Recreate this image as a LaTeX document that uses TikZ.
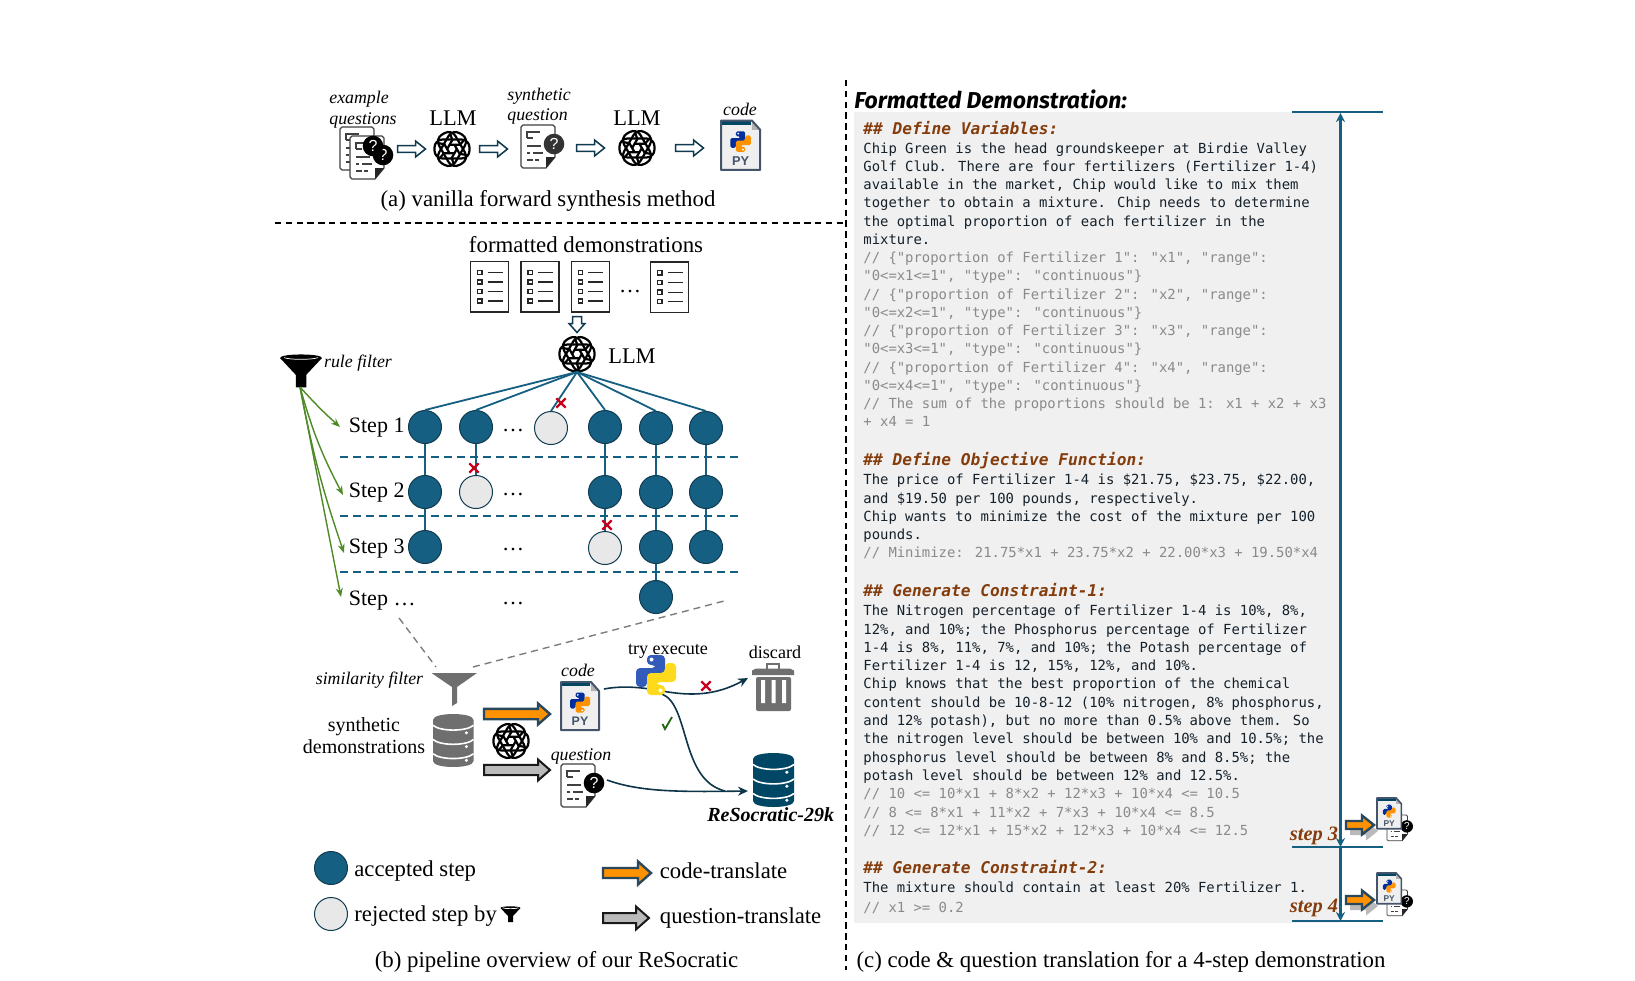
\documentclass[tikz,border=0pt]{standalone}
\usepackage{fontspec}
\setmainfont{Liberation Serif}
\newfontfamily\codefont{DejaVu Sans Mono}
\newfontfamily\titlefont{Fira Sans}
\newfontfamily\pyfont{Liberation Sans}
\usetikzlibrary{shapes.misc,arrows.meta}
\definecolor{teal}{HTML}{156082}
\definecolor{navy}{HTML}{0F3A50}
\definecolor{dbnavy}{HTML}{004766}
\definecolor{rej}{HTML}{E8E8E8}
\definecolor{xred}{HTML}{C8001E}
\definecolor{brownish}{HTML}{843C0C}
\definecolor{gline}{HTML}{4E8A26}
\definecolor{boxgray}{HTML}{F0F0F0}
\definecolor{codegray}{HTML}{8A8A8A}
\definecolor{codedark}{HTML}{14202A}
\definecolor{slate}{HTML}{44546A}
\definecolor{orangefill}{HTML}{FF9200}
\definecolor{grayfill}{HTML}{BABABA}
\definecolor{iconalt}{HTML}{6F6F6F}
\tikzset{
  acc/.style={circle,draw=navy,fill=teal,line width=0.5pt,minimum size=16.5pt,inner sep=0pt},
  rejc/.style={circle,draw=navy,fill=rej,line width=0.5pt,minimum size=16.5pt,inner sep=0pt},
  edgeline/.style={draw=teal,line width=0.9pt},
  sep/.style={draw=teal,line width=0.6pt,dash pattern=on 4pt off 2.5pt},
  blackdash/.style={draw=black,line width=0.8pt,dash pattern=on 3.2pt off 2.2pt},
  graydash/.style={draw=iconalt!90,line width=0.7pt,dash pattern=on 3.5pt off 2.5pt},
  greenarr/.style={draw=gline,line width=0.7pt,-{Stealth[length=4.5pt,width=3.5pt]}},
  flowarr/.style={draw=navy!90!black,line width=0.8pt},
  redx/.style={cross out,draw=xred,line width=1.1pt,minimum size=3.6pt,inner sep=0pt},
  hollow/.style={draw=navy,fill=white,line width=0.75pt,miter limit=3},
  codearr/.style={draw=slate!50!navy,fill=orangefill,line width=1.2pt,miter limit=3},
  quesarr/.style={draw=black!90,fill=grayfill,line width=1pt,miter limit=3},
  shadowS/.style={fill=grayfill},
  serifL/.style={inner sep=0pt,font=\fontsize{11.42}{13}\selectfont},
  serifM/.style={inner sep=0pt,font=\fontsize{9.05}{11}\selectfont},
  itM/.style={inner sep=0pt,font=\fontsize{8.9}{11}\selectfont\itshape},
  stepT/.style={inner sep=0pt,anchor=base west,font=\fontsize{11}{13}\selectfont},
  legT/.style={inner sep=0pt,anchor=base west,font=\fontsize{11.35}{13}\selectfont},
  dotsT/.style={inner sep=0pt,anchor=base,font=\fontsize{11}{13}\selectfont},
  codeb/.style={inner sep=0pt,anchor=base west,text=codedark,font=\codefont\fontsize{6.95}{8}\selectfont},
  codeg/.style={inner sep=0pt,anchor=base west,text=codegray,font=\codefont\fontsize{6.95}{8}\selectfont},
  codeh/.style={inner sep=0pt,anchor=base west,text=brownish,font=\codefont\fontsize{8.1}{9}\selectfont\bfseries\itshape},
  steplbl/.style={inner sep=0pt,anchor=base,text=brownish,font=\fontsize{10.2}{12}\selectfont\bfseries\itshape},
}
\newcommand\cb[3]{\node[codeb] (#1) at (863,#2+5.3) {#3};}
\newcommand\cg[3]{\node[codeg] (#1) at (863,#2+5.3) {#3};}
\newcommand\ch[3]{\node[codeh] (#1) at (863,#2+5.8) {#3};}
% block arrow: start x, start y, length, half body, half head, head length, rotation, style
\newcommand\barr[8]{\path[#8,shift={(#1,#2)},rotate=#7] (0,-#4) -- (#3-#6,-#4) -- (#3-#6,-#5) -- (#3,0) -- (#3-#6,#5) -- (#3-#6,#4) -- (0,#4) -- cycle;}
% OpenAI-style knot
\newcommand\knot[3]{\begin{scope}[shift={(#1,#2)},scale=#3]
 \foreach \a in {0,60,120}{
  \draw[black,line width=1.1pt,rotate=\a,rounded corners=4pt] (-17.5,-9.5) rectangle (17.5,9.5);}
 \foreach \a in {0,60,...,300}{
  \draw[black,line width=1.1pt,rotate=\a] (-3,-4.2) -- (8,-4.2) -- (12,-9);}
\end{scope}}
% python snake pair
\newcommand\snake{(-9,-10) -- (-9,-20) -- (9,-20) -- (9,2) -- (-9,2) -- (-9,12) -- (-20,12) -- (-20,-7) -- (0,-7) -- (0,-10) -- cycle}
\newcommand\pysnakes[6]{\begin{scope}[shift={(#1,#2)},scale=#3]
 \fill[#4,rounded corners=#6] \snake;
 \fill[white] (-4.5,-15.5) circle (2);
 \begin{scope}[rotate=180]
 \fill[#5,rounded corners=#6] \snake;
 \fill[white] (-4.5,-15.5) circle (2);
 \end{scope}
\end{scope}}
% PY file icon: top-left, scale, font size, line width
\newcommand\pyfile[5]{\begin{scope}[shift={(#1,#2)},scale=#3]
 \fill[rej!70!white] (0,0) -- (30,0) -- (38,9) -- (38,48) -- (0,48) -- cycle;
 \fill[dbnavy] (0,0) rectangle (29,4);
 \fill[gray!60] (30,0) -- (30,9) -- (38,9) -- cycle;
 \draw[slate,line width=#5,line join=round] (0,0) -- (30,0) -- (38,9) -- (38,48) -- (0,48) -- cycle;
 \pysnakes{19}{20.5}{.5}{blue!35!dbnavy}{orangefill}{0.8pt}
 \node[inner sep=0pt,text=slate,font=\pyfont\bfseries\fontsize{#4}{#4}\selectfont] at (19,39.5) {PY};
\end{scope}}
% Question document: top-left, scale, circle colour, font size, line width
\newcommand\qdoc[6]{\begin{scope}[shift={(#1,#2)},scale=#3]
 \draw[black!75,fill=white,line width=#6,line join=round] (2,0) -- (32,0) -- (34,2) -- (34,32) -- (25,43) -- (2,43) -- (0,41) -- (0,2) -- cycle;
 \fill[black!85] (34,32) -- (25,32) -- (25,43) -- cycle;
 \draw[black!75,line width=#6] (6,13) -- (6,7) -- (19,7) (6,13) -- (12,13) (6,21) -- (20,21) (6,28) -- (9,28) (12,28) -- (22,28) (6,35) -- (12,35) (14,35) -- (18,35);
 \fill[#4] (33,19) circle (10.3);
 \node[inner sep=0pt,text=white,font=\pyfont\fontsize{#5}{#5}\selectfont] at (33,19) {?};
\end{scope}}
% Checklist document: top-left
\newcommand\chk[2]{\begin{scope}[shift={(#1,#2)}]
 \draw[black!85,line width=0.7pt,fill=white] (0,0) rectangle (38,50.5);
 \foreach \y in {11,20.7,30.3,39.7}{
  \draw[black!85,line width=0.7pt] (7,\y-2.1) rectangle (11.4,\y+2.1);
  \draw[black!85,line width=0.55pt] (17,\y) -- (32,\y);}
\end{scope}}
% Database icon: left, top, width, height, colour
\newcommand\dbicon[5]{\begin{scope}[shift={(#1,#2)},xscale=#3/40,yscale=#4/54]
 \fill[#5] (0,6) .. controls (0,-2) and (40,-2) .. (40,6) -- (40,48) .. controls (40,56) and (0,56) .. (0,48) -- cycle;
 \foreach \y in {11.5,26,40.5}{
  \draw[white,line width=0.8pt] (0,\y) .. controls (7,\y+6.5) and (33,\y+6.5) .. (40,\y);}
 \foreach \y in {20,34,48}{\fill[white] (33,\y-0.8) circle (1.7);}
\end{scope}}
% Black funnel: centre top, scale
\newcommand\funnelB[3]{\begin{scope}[shift={(#1,#2)},scale=#3]
 \fill[black] (-20,0) .. controls (-20,-4.5) and (20,-4.5) .. (20,0) -- (5,16) -- (5,28) -- (-5,28) -- (-5,16) -- cycle;
 \draw[white,line width=0.35pt] (-16,-0.3) .. controls (-10,1.8) and (10,1.8) .. (16,-0.3);
\end{scope}}
\begin{document}
\begin{tikzpicture}[x=0.5pt,y=-0.5pt]
\useasboundingbox (0,0) rectangle (1635,981);
\fill[white] (0,0) rectangle (1635,981);

% separators
\coordinate (hs) at (275,223); \coordinate (he) at (843,223);
\coordinate (vs) at (846,80); \coordinate (ve) at (846,970);
\draw[blackdash] (hs) -- (he);
\draw[blackdash] (vs) -- (ve);

% ---- panel (a)
\node[itM,anchor=base west] (exq1) at (329,103) {example};
\node[itM,anchor=base west] (exq2) at (329,124) {questions};
\qdoc{340}{127}{1}{black}{8}{0.6pt}
\qdoc{350}{136}{1}{black}{8}{0.6pt}
\fill[black] (373,146) circle (10.3);
\node[inner sep=0pt,text=white,font=\pyfont\fontsize{8}{8}\selectfont] (qm1) at (373,146) {?};
\barr{397.5}{149}{28}{3.4}{8}{10}{0}{hollow}
\knot{452}{149}{1}
\node[serifL,anchor=base,font=\fontsize{11.2}{13}\selectfont] (llm1) at (453,125) {LLM};
\barr{479.5}{149}{28}{3.4}{8}{10}{0}{hollow}
\node[itM,anchor=base west] (syn1) at (507,100) {synthetic};
\node[itM,anchor=base west] (syn2) at (507,120.7) {question};
\qdoc{521}{125}{1}{black!80}{8}{0.6pt}
\barr{576.5}{148}{28}{3.4}{8}{10}{0}{hollow}
\knot{637}{148}{1}
\node[serifL,anchor=base,font=\fontsize{11.2}{13}\selectfont] (llm2) at (637,125) {LLM};
\barr{675.5}{148}{28}{3.4}{8}{10}{0}{hollow}
\node[itM,anchor=base] (codea) at (740,115) {code};
\pyfile{721}{120.5}{1.03}{6.4}{1pt}
\node[serifL,anchor=base] (capa) at (548,206) {(a) vanilla forward synthesis method};

% ---- panel (b) top
\node[serifL,anchor=base] (fmt) at (586,252) {formatted demonstrations};
\chk{470.7}{261.3}\chk{521}{261.3}\chk{571.3}{261.3}\chk{650.7}{261.8}
\node[dotsT] (fd) at (630,292) {…};
\barr{577}{316.5}{16}{4.5}{8}{9}{-90}{hollow}
\knot{577}{354}{1}
\node[serifL,anchor=base,font=\fontsize{11.2}{13}\selectfont] (llm3) at (632,363.5) {LLM};
\coordinate (apex) at (577,372);

% rule filter
\funnelB{301}{358}{1.05}
\node[itM,anchor=base] (rule) at (358,367.7) {rule filter};
\coordinate (rf) at (300,387);

% separators between the steps
\coordinate (s1a) at (340,457); \coordinate (s1b) at (741,457);
\coordinate (s2a) at (340,516); \coordinate (s2b) at (741,516);
\coordinate (s3a) at (340,572); \coordinate (s3b) at (741,572);
\draw[sep] (s1a) -- (s1b);
\draw[sep] (s2a) -- (s2b);
\draw[sep] (s3a) -- (s3b);

% step labels
\node[stepT] (st1) at (348.5,432) {Step 1};
\node[stepT] (st2) at (348.5,497) {Step 2};
\node[stepT] (st3) at (348.5,553) {Step 3};
\node[stepT] (st4) at (348.5,605.5) {Step …};
\node[dotsT] (d1) at (513,431) {…};
\node[dotsT] (d2) at (513,495) {…};
\node[dotsT] (d3) at (513,550) {…};
\node[dotsT] (d4) at (513,604) {…};

% circles
\node[acc] (n11) at (425,427) {};
\node[acc] (n12) at (476,427) {};
\node[rejc] (n13) at (551,428) {};
\node[acc] (n14) at (605,427) {};
\node[acc] (n15) at (656,428) {};
\node[acc] (n16) at (706,428) {};
\node[acc] (n21) at (425,492) {};
\node[rejc] (n22) at (476,492) {};
\node[acc] (n24) at (605,492) {};
\node[acc] (n25) at (656,492) {};
\node[acc] (n26) at (706,492) {};
\node[acc] (n31) at (425,547) {};
\node[rejc] (n34) at (605,548) {};
\node[acc] (n35) at (656,547) {};
\node[acc] (n36) at (706,547) {};
\node[acc] (n45) at (656,597) {};
\foreach \t in {n11,n12,n13,n14,n15,n16}{\draw[edgeline] (apex) -- (\t.north);}
\draw[edgeline] (n11) -- (n21); \draw[edgeline] (n21) -- (n31);
\draw[edgeline] (n12) -- (n22);
\draw[edgeline] (n14) -- (n24); \draw[edgeline] (n24) -- (n34);
\draw[edgeline] (n15) -- (n25); \draw[edgeline] (n25) -- (n35); \draw[edgeline] (n35) -- (n45);
\draw[edgeline] (n16) -- (n26); \draw[edgeline] (n26) -- (n36);
\node[redx] (x1) at (561,403) {};
\node[redx] (x2) at (474,468) {};
\node[redx] (x3) at (607,525) {};

% green arrows
\coordinate (g1) at (340,427); \coordinate (g2) at (343,495);
\coordinate (g3) at (344,553); \coordinate (g4) at (341,597);
\draw[greenarr] (rf) to[bend right=3] (g1);
\draw[greenarr] (rf) to[bend right=6] (g2);
\draw[greenarr] (rf) to[bend right=4] (g3);
\draw[greenarr] (rf) -- (g4);

% similarity filter
\coordinate (gd1) at (399,618); \coordinate (gd2) at (436,667);
\coordinate (gd3) at (473,667); \coordinate (gd4) at (724,601);
\draw[graydash] (gd1) -- (gd2);
\draw[graydash] (gd3) -- (gd4);
\fill[iconalt] (431.5,673) -- (477,673) -- (457,687) -- (457,703) -- (452,706) -- (452,687) -- cycle;
\node[itM,anchor=base] (sim) at (369.5,684) {similarity filter};
\node[inner sep=0pt,anchor=base,font=\fontsize{10}{12}\selectfont] (sd1) at (364,731.7) {synthetic};
\node[inner sep=0pt,anchor=base,font=\fontsize{10}{12}\selectfont] (sd2) at (364,753.3) {demonstrations};
\dbicon{433}{714}{40.5}{53}{iconalt}
\barr{484}{714}{66}{5.2}{10.5}{12}{0}{codearr}
\barr{484}{770}{66}{5.2}{10.5}{12}{0}{quesarr}
\knot{511}{741}{1}
\node[itM,anchor=base] (codeb2) at (578,676) {code};
\pyfile{561}{682}{1}{6.2}{1pt}
\node[itM,anchor=base] (quest) at (581,760) {question};
\qdoc{561}{764}{1}{black}{8}{0.6pt}

% execution flow
\node[serifM,anchor=base] (tryx) at (668,654) {try execute};
\coordinate (f1s) at (604,689); \coordinate (f1e) at (748,678);
\coordinate (f2s) at (662,694); \coordinate (f3s) at (607,780); \coordinate (f3e) at (748,791);
\draw[flowarr,-{Stealth[length=5pt,width=4.5pt]}] (f1s) .. controls (625,685) and (645,688) .. (662,691) .. controls (690,696) and (715,696) .. (f1e);
\draw[flowarr] (f2s) .. controls (690,705) and (680,780) .. (725,791);
\draw[flowarr,-{Stealth[length=5pt,width=4.5pt]}] (f3s) .. controls (640,792) and (680,792) .. (f3e);
\pysnakes{656}{675}{1}{blue!35!teal!85!white}{yellow!75!orange!90!white}{2pt}
\node[serifM,anchor=base] (disc) at (775,658) {discard};
% trash
\fill[iconalt] (752,670.5) -- (752,675) -- (794,675) -- (794,670.5) -- (790,668.5) -- (756,668.5) -- cycle;
\draw[iconalt,line width=0.9pt] (767,669) -- (767,664) -- (779,664) -- (779,669);
\fill[iconalt,rounded corners=1pt] (756,677) rectangle (791,711);
\fill[white] (761,680) rectangle (765,703) (771.5,680) rectangle (775.5,703) (782,680) rectangle (786,703);
\dbicon{753}{753}{41}{54}{dbnavy}
\node[inner sep=0pt,anchor=base west,font=\fontsize{10}{12}\selectfont\bfseries\itshape] (resoc) at (707,821.7) {ReSocratic-29k};
\node[redx] (x4) at (706,686) {};
\draw[line width=0.9pt,draw=gline!50!black!80!green] (662.5,724) -- (665,729) -- (672,717);

% legend
\node[acc] (la) at (331,868) {};
\node[legT] (lat) at (354,876) {accepted step};
\node[rejc] (lr) at (331,914) {};
\node[legT] (lrt) at (354,921) {rejected step by};
\funnelB{510.5}{908}{0.5}
\barr{603}{873}{48}{5}{11.5}{13}{0}{codearr}
\node[legT] (lct) at (659.5,878) {code-translate};
\barr{603}{918}{46}{5}{11.5}{13}{0}{quesarr}
\node[legT] (lqt) at (659.5,923) {question-translate};
\node[serifL,anchor=base] (capb) at (556.5,967.5) {(b) pipeline overview of our ReSocratic};

% ---- panel (c)
\node[inner sep=0pt,anchor=base west,font=\titlefont\bfseries\itshape\fontsize{11.5}{14}\selectfont] (ttl) at (854,108.7) {Formatted Demonstration:};
\fill[boxgray] (854,112) rectangle (1340,923);
\ch{h1}{128.3}{\#\# Define Variables:}
\cb{a1}{148.3}{Chip Green is the head groundskeeper at Birdie Valley}
\cb{a2}{166.3}{Golf Club. There are four fertilizers (Fertilizer 1-4)}
\cb{a3}{184.3}{available in the market, Chip would like to mix them}
\cb{a4}{202.3}{together to obtain a mixture. Chip needs to determine}
\cb{a5}{221}{the optimal proportion of each fertilizer in the}
\cb{a6}{239}{mixture.}
\cg{b1}{257.3}{// \{"proportion of Fertilizer 1": "x1", "range":}
\cg{b2}{275.3}{"0<=x1<=1", "type": "continuous"\}}
\cg{b3}{294.3}{// \{"proportion of Fertilizer 2": "x2", "range":}
\cg{b4}{312.3}{"0<=x2<=1", "type": "continuous"\}}
\cg{b5}{330.3}{// \{"proportion of Fertilizer 3": "x3", "range":}
\cg{b6}{348.3}{"0<=x3<=1", "type": "continuous"\}}
\cg{b7}{367.3}{// \{"proportion of Fertilizer 4": "x4", "range":}
\cg{b8}{385.3}{"0<=x4<=1", "type": "continuous"\}}
\cg{b9}{403.3}{// The sum of the proportions should be 1: x1 + x2 + x3}
\cg{b10}{421.5}{+ x4 = 1}
\ch{h2}{459.3}{\#\# Define Objective Function:}
\cb{c1}{479.3}{The price of Fertilizer 1-4 is \$21.75, \$23.75, \$22.00,}
\cb{c2}{498.3}{and \$19.50 per 100 pounds, respectively.}
\cb{c3}{516.3}{Chip wants to minimize the cost of the mixture per 100}
\cb{c4}{534.3}{pounds.}
\cg{c5}{552.3}{// Minimize: 21.75*x1 + 23.75*x2 + 22.00*x3 + 19.50*x4}
\ch{h3}{590.3}{\#\# Generate Constraint-1:}
\cb{d1c}{610.3}{The Nitrogen percentage of Fertilizer 1-4 is 10\%, 8\%,}
\cb{d2c}{629.3}{12\%, and 10\%; the Phosphorus percentage of Fertilizer}
\cb{d3c}{647.3}{1-4 is 8\%, 11\%, 7\%, and 10\%; the Potash percentage of}
\cb{d4c}{665.3}{Fertilizer 1-4 is 12, 15\%, 12\%, and 10\%.}
\cb{d5c}{683.3}{Chip knows that the best proportion of the chemical}
\cb{d6c}{702.3}{content should be 10-8-12 (10\% nitrogen, 8\% phosphorus,}
\cb{d7c}{720.3}{and 12\% potash), but no more than 0.5\% above them. So}
\cb{d8c}{738.3}{the nitrogen level should be between 10\% and 10.5\%; the}
\cb{d9c}{756.7}{phosphorus level should be between 8\% and 8.5\%; the}
\cb{d10c}{775.3}{potash level should be between 12\% and 12.5\%.}
\cg{e1}{793.3}{// 10 <= 10*x1 + 8*x2 + 12*x3 + 10*x4 <= 10.5}
\cg{e2}{811.7}{// 8 <= 8*x1 + 11*x2 + 7*x3 + 10*x4 <= 8.5}
\cg{e3}{830.3}{// 12 <= 12*x1 + 15*x2 + 12*x3 + 10*x4 <= 12.5}
\ch{h4}{867.3}{\#\# Generate Constraint-2:}
\cb{f1}{887.3}{The mixture should contain at least 20\% Fertilizer 1.}
\cg{f2}{906.7}{// x1 >= 0.2}

% step brackets
\coordinate (t0a) at (1292,112); \coordinate (t0b) at (1383,112);
\coordinate (t3a) at (1292,847); \coordinate (t3b) at (1383,847);
\coordinate (t4a) at (1292,921); \coordinate (t4b) at (1383,921);
\coordinate (v0) at (1340.5,113); \coordinate (v3) at (1340.5,847); \coordinate (v4) at (1340.5,921);
\draw[teal,line width=0.9pt] (t0a) -- (t0b);
\draw[teal,line width=0.9pt] (t3a) -- (t3b);
\draw[teal,line width=0.9pt] (t4a) -- (t4b);
\draw[teal,line width=1.1pt,{Stealth[length=4.5pt,width=4.5pt]}-{Stealth[length=4.5pt,width=4.5pt]}] (v0) -- (v3);
\draw[teal,line width=1.1pt,-{Stealth[length=4.5pt,width=4.5pt]}] (v3) -- (v4);
\node[steplbl] (s3t) at (1314,840) {step 3};
\node[steplbl] (s4t) at (1314,912.7) {step 4};
\barr{1350}{831}{28}{4}{9.5}{12}{0}{shadowS}
\barr{1346}{825}{28}{4}{9.5}{12}{0}{codearr}
\qdoc{1387}{815}{0.6}{black}{5}{0.4pt}
\pyfile{1377}{798}{0.64}{4.2}{0.8pt}
\barr{1350}{906}{28}{4}{9.5}{12}{0}{shadowS}
\barr{1346}{900}{28}{4}{9.5}{12}{0}{codearr}
\qdoc{1387}{890}{0.6}{black}{5}{0.4pt}
\pyfile{1377}{873}{0.64}{4.2}{0.8pt}
\node[serifL,anchor=base] (capc) at (1121,967.5) {(c) code \& question translation for a 4-step demonstration};
\end{tikzpicture}
\end{document}
